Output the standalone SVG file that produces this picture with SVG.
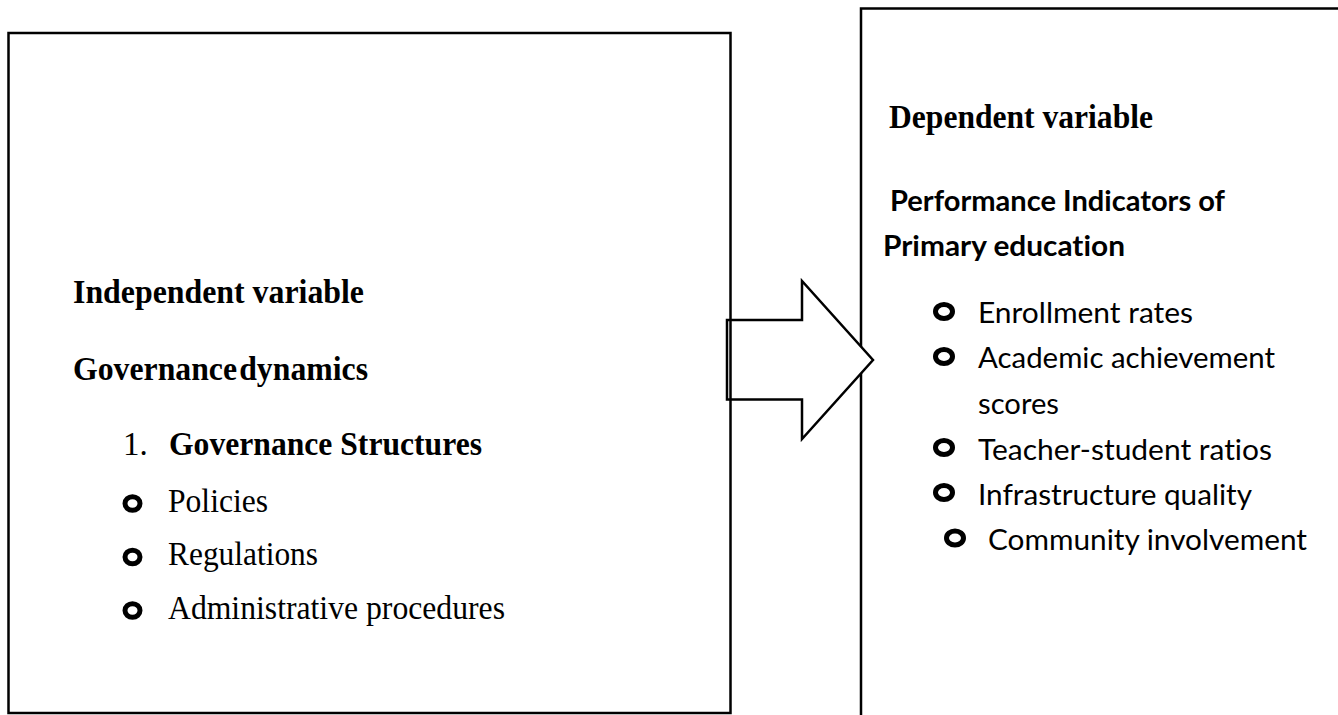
<svg xmlns="http://www.w3.org/2000/svg" width="1338" height="715" viewBox="0 0 1338 715">
  <style>
    .box { fill: none; stroke: #000; stroke-width: 2.5; }
    .serif { font-family: "Liberation Serif", "Times New Roman", Times, serif; font-size: 33px; fill: #000; }
    .sb { font-weight: bold; }
    .sans { font-family: Lato, "Open Sans", "Liberation Sans", sans-serif; font-size: 29px; fill: #000; font-variant-ligatures: none; }
    .bul { fill: none; stroke: #000; stroke-width: 5; }
    .arrow { fill: #fff; stroke: #000; stroke-width: 2.5; stroke-linejoin: miter; }
  </style>
  <rect width="1338" height="715" fill="#fff"/>

  <g id="dependent-variable">
    <rect class="box" x="861" y="8.5" width="500" height="720"/>
    <text class="serif sb" x="889" y="128" textLength="264" lengthAdjust="spacingAndGlyphs">Dependent variable</text>
    <text class="sans sb" x="890" y="211" textLength="335" lengthAdjust="spacingAndGlyphs">Performance Indicators of</text>
    <text class="sans sb" x="883" y="256" textLength="242" lengthAdjust="spacingAndGlyphs">Primary education</text>
    <ellipse class="bul" cx="944" cy="311.5" rx="8.5" ry="7"/>
    <text class="sans" x="978" y="323" textLength="215" lengthAdjust="spacingAndGlyphs">Enrollment rates</text>
    <ellipse class="bul" cx="944" cy="356.5" rx="8.5" ry="7"/>
    <text class="sans" x="978" y="368" textLength="297" lengthAdjust="spacingAndGlyphs">Academic achievement</text>
    <text class="sans" x="978" y="414" textLength="81" lengthAdjust="spacingAndGlyphs">scores</text>
    <ellipse class="bul" cx="944" cy="447.5" rx="8.5" ry="7"/>
    <text class="sans" x="978" y="460" textLength="294" lengthAdjust="spacingAndGlyphs">Teacher-student ratios</text>
    <ellipse class="bul" cx="944" cy="492.5" rx="8.5" ry="7"/>
    <text class="sans" x="978" y="505" textLength="274" lengthAdjust="spacingAndGlyphs">Infrastructure quality</text>
    <ellipse class="bul" cx="955" cy="538" rx="8.5" ry="7"/>
    <text class="sans" x="988" y="550" textLength="319" lengthAdjust="spacingAndGlyphs">Community involvement</text>
  </g>

  <g id="connectors">
    <polygon class="arrow" points="727,320 802,320 802,281 873,360 802,439 802,399.5 727,399.5"/>
  </g>

  <g id="independent-variable">
    <rect class="box" x="8.5" y="33" width="722" height="680"/>
    <text class="serif sb" x="73" y="303" textLength="291" lengthAdjust="spacingAndGlyphs">Independent variable</text>
    <text class="serif sb" x="73" y="380" textLength="295" lengthAdjust="spacingAndGlyphs" word-spacing="-6">Governance dynamics</text>
    <text class="serif" x="123" y="455">1.</text>
    <text class="serif sb" x="169" y="455" textLength="313" lengthAdjust="spacingAndGlyphs">Governance Structures</text>
    <ellipse class="bul" cx="132.5" cy="503.5" rx="7.5" ry="6.8"/>
    <text class="serif" x="168" y="512" textLength="100" lengthAdjust="spacingAndGlyphs">Policies</text>
    <ellipse class="bul" cx="132.5" cy="557" rx="7.5" ry="6.8"/>
    <text class="serif" x="168" y="565" textLength="150" lengthAdjust="spacingAndGlyphs">Regulations</text>
    <ellipse class="bul" cx="132.5" cy="610.5" rx="7.5" ry="6.8"/>
    <text class="serif" x="168" y="619" textLength="337" lengthAdjust="spacingAndGlyphs">Administrative procedures</text>
  </g>
</svg>
